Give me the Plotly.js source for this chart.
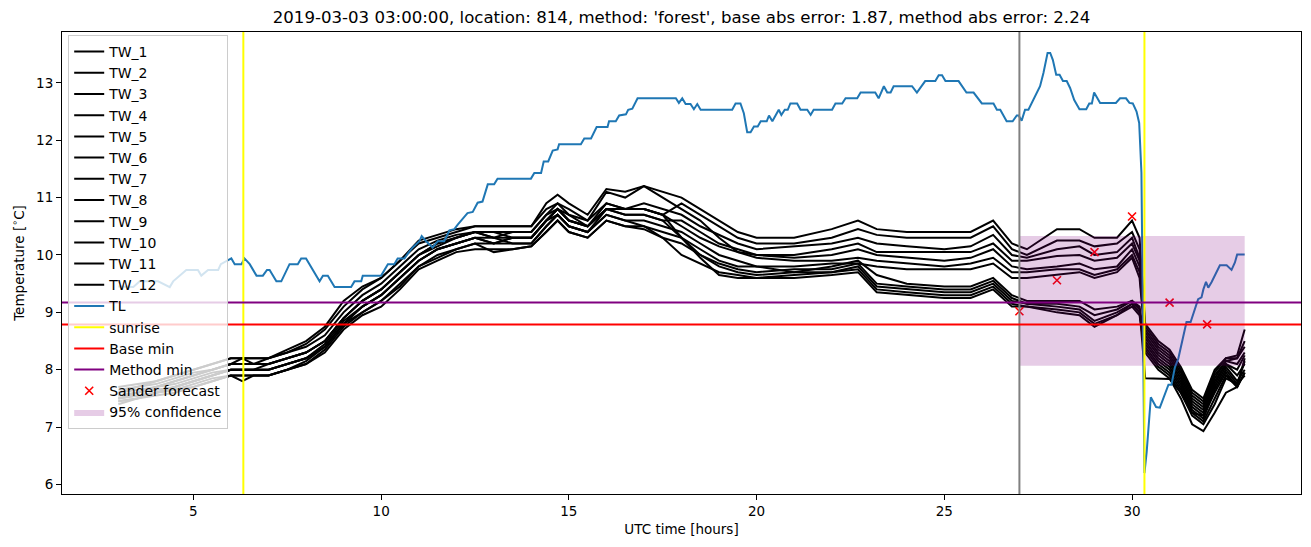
<!DOCTYPE html>
<html><head><meta charset="utf-8">
<script src="https://cdn.plot.ly/plotly-3.0.1.min.js"></script>
<style>body{margin:0;background:#fff}#chart{width:1311px;height:547px}</style>
</head><body><div id="chart"></div>
<script>
// time grid (UTC hours) shared by the TW series
const T = [3.0,3.5,4.0,4.5,5.0,5.5,6.0,6.3,6.6,7.0,7.5,8.0,8.5,9.0,9.5,10.0,10.5,11.0,11.5,12.0,12.5,13.0,13.5,14.0,14.4,14.7,15.0,15.5,16.0,16.5,17.0,17.5,
 18.0,18.5,19.0,19.5,20.0,21.0,22.0,22.7,23.2,24.0,25.0,25.7,26.3,26.8,27.2,28.0,28.6,29.0,29.6,30.0,30.2,
 30.35,30.7,31.0,31.3,31.6,31.9,32.2,32.5,32.8,33.0];

const TW_1 = [7.7,7.75,7.8,7.9,8.0,8.1,8.2,8.2,8.2,8.2,8.3,8.45,8.7,9.1,9.4,9.6,9.9,10.2,10.3,10.4,10.5,10.5,10.5,10.5,10.8,10.9,10.8,10.6,11.1,11.0,11.2,11.1,
 11.0,10.8,10.6,10.4,10.3,10.3,10.45,10.6,10.45,10.4,10.4,10.4,10.6,10.2,10.1,10.45,10.45,10.3,10.3,10.6,10.3,
 8.8,8.5,8.35,8.05,7.65,7.5,8.0,8.2,8.25,8.7];
const TW_2 = [7.6,7.65,7.7,7.8,7.9,8.0,8.1,8.1,8.1,8.1,8.2,8.3,8.5,8.9,9.2,9.4,9.7,10.0,10.2,10.3,10.4,10.3,10.4,10.4,10.7,10.8,10.6,10.5,10.9,10.8,10.8,10.7,
 10.9,10.7,10.5,10.3,10.2,10.2,10.3,10.45,10.35,10.3,10.3,10.3,10.5,10.1,10.0,10.25,10.25,10.15,10.2,10.4,10.1,
 8.75,8.45,8.3,8.0,7.6,7.45,7.95,8.2,8.2,8.5];
const TW_3 = [7.65,7.7,7.75,7.85,7.95,8.0,8.1,8.2,8.1,8.2,8.3,8.4,8.6,9.0,9.3,9.5,9.8,10.1,10.25,10.35,10.4,10.4,10.3,10.3,10.6,10.8,10.7,10.5,10.8,10.8,10.9,10.8,
 10.7,10.5,10.35,10.2,10.1,10.15,10.2,10.3,10.2,10.15,10.1,10.15,10.35,10.0,9.95,10.1,10.15,10.0,10.05,10.3,9.95,
 8.7,8.4,8.25,7.95,7.55,7.4,7.9,8.15,8.2,8.4];
const TW_4 = [7.55,7.6,7.7,7.75,7.85,7.95,8.0,8.0,8.0,8.0,8.1,8.2,8.4,8.8,9.1,9.3,9.6,9.9,10.1,10.2,10.3,10.2,10.3,10.3,10.6,10.7,10.5,10.4,10.8,10.7,10.7,10.6,
 10.6,10.4,10.2,10.1,10.0,10.0,10.1,10.2,10.05,10.05,10.05,10.05,10.2,9.9,9.9,9.98,10.0,9.9,9.95,10.2,9.9,
 8.65,8.35,8.2,7.9,7.5,7.35,7.85,8.15,8.1,8.3];
const TW_5 = [7.5,7.55,7.6,7.7,7.8,7.9,8.0,8.0,8.0,8.1,8.2,8.3,8.5,8.9,9.2,9.4,9.7,10.0,10.2,10.3,10.4,10.4,10.4,10.4,10.7,10.9,10.7,10.6,10.9,10.8,10.8,10.7,
 10.5,10.3,10.15,10.05,10.0,9.95,10.0,10.1,10.0,9.95,9.9,9.95,10.1,9.8,9.75,9.8,9.85,9.75,9.8,10.1,9.8,
 8.6,8.3,8.15,7.85,7.45,7.3,7.8,8.1,8.0,8.25];
const TW_6 = [7.6,7.7,7.8,7.9,8.0,8.1,8.2,8.2,8.2,8.2,8.35,8.5,8.75,9.2,9.45,9.6,9.9,10.25,10.35,10.45,10.5,10.5,10.5,10.5,10.9,11.05,10.9,10.7,11.15,11.1,11.2,11.0,
 10.8,10.6,10.3,10.05,9.95,9.9,9.9,9.95,9.9,9.85,9.8,9.85,9.95,9.7,9.7,9.75,9.75,9.65,9.75,10.0,9.7,
 8.55,8.25,8.1,7.8,7.4,7.25,7.75,8.1,7.9,8.1];
const TW_7 = [7.45,7.5,7.6,7.65,7.75,7.85,7.9,7.8,7.9,7.9,8.0,8.1,8.3,8.7,8.95,9.1,9.4,9.75,9.9,10.05,10.1,10.1,10.1,10.15,10.4,10.6,10.4,10.3,10.6,10.5,10.5,10.4,
 10.3,10.1,9.9,9.8,9.8,9.8,9.85,9.85,9.8,9.75,9.75,9.75,9.85,9.6,9.6,9.66,9.7,9.6,9.7,9.95,9.6,
 8.5,8.2,8.05,7.75,7.35,7.2,7.7,8.05,7.8,8.0];
const TW_8 = [7.5,7.6,7.7,7.8,7.9,8.0,8.1,8.1,8.1,8.1,8.2,8.3,8.5,8.9,9.2,9.4,9.7,10.0,10.15,10.3,10.4,10.3,10.2,10.2,10.5,10.7,10.5,10.4,10.7,10.6,10.6,10.5,
 10.4,10.2,10.0,9.9,9.8,9.7,9.8,9.9,9.65,9.5,9.45,9.45,9.6,9.3,9.2,9.2,9.2,9.05,9.1,9.2,9.1,
 8.45,8.15,8.0,7.7,7.3,7.15,7.65,8.0,7.75,8.15];
const TW_9 = [7.4,7.5,7.55,7.6,7.7,7.8,7.9,7.9,7.9,7.9,8.0,8.1,8.35,8.75,9.0,9.2,9.5,9.8,10.0,10.1,10.2,10.2,10.2,10.2,10.5,10.7,10.5,10.4,10.7,10.6,10.5,10.3,
 10.2,10.0,9.85,9.75,9.7,9.75,9.75,9.85,9.5,9.45,9.4,9.4,9.55,9.25,9.15,9.15,9.1,8.95,9.05,9.2,9.05,
 7.85,7.84,7.84,7.6,7.25,7.2,7.6,7.95,7.7,8.2];
const TW_10 = [7.55,7.6,7.65,7.7,7.8,7.9,8.0,8.0,8.0,8.0,8.1,8.2,8.45,8.85,9.1,9.3,9.6,9.9,10.1,10.2,10.3,10.3,10.3,10.3,10.6,10.8,10.6,10.5,10.8,10.7,10.7,10.6,
 10.3,10.0,9.8,9.7,9.65,9.7,9.7,9.8,9.45,9.4,9.35,9.35,9.5,9.2,9.15,9.1,9.05,8.85,9.0,9.15,9.0,
 8.4,8.1,7.95,7.65,7.25,7.1,7.5,7.9,7.7,7.95];
const TW_11 = [7.45,7.5,7.6,7.65,7.7,7.8,7.9,7.9,7.9,7.9,8.0,8.15,8.4,8.8,9.0,9.2,9.45,9.8,9.95,10.1,10.2,10.05,10.1,10.15,10.4,10.6,10.4,10.3,10.6,10.5,10.45,10.3,
 10.0,9.85,9.7,9.65,9.6,9.65,9.7,9.75,9.4,9.35,9.3,9.3,9.45,9.15,9.1,9.05,9.0,8.8,8.95,9.15,9.0,
 8.35,8.05,7.9,7.6,7.2,7.05,7.4,7.85,7.75,7.9];
const TW_12 = [7.5,7.55,7.6,7.7,7.8,7.9,8.0,8.0,8.0,8.0,8.1,8.2,8.4,8.8,9.1,9.3,9.6,9.9,10.1,10.2,10.3,10.2,10.3,10.3,10.6,10.8,10.6,10.5,10.8,10.8,10.8,10.7,
 10.3,9.95,9.65,9.6,9.6,9.6,9.65,9.7,9.35,9.3,9.25,9.25,9.4,9.1,9.1,9.0,8.95,8.75,8.95,9.1,8.95,
 8.3,8.0,7.85,7.5,7.05,6.93,7.25,7.6,7.7,7.95];

// air temperature TL
const TL_x = [3.0,3.4,3.57,4.06,4.37,4.46,4.81,5.12,5.21,5.39,5.66,5.73,6.01,6.10,6.28,6.36,6.50,6.68,6.85,6.96,7.03,7.21,7.34,7.56,7.78,7.87,8.0,8.36,8.45,8.58,8.76,9.20,9.29,9.47,9.51,10.0,10.18,10.35,10.44,10.62,10.73,10.84,11.02,11.08,11.20,11.37,11.51,11.68,11.82,11.95,12.04,12.17,12.30,12.44,12.57,12.70,12.84,13.01,13.10,13.99,14.08,14.26,14.33,14.45,14.57,14.70,14.74,15.32,15.41,15.59,15.74,16.03,16.07,16.25,16.34,16.52,16.58,16.69,16.83,17.85,17.93,18.02,18.11,18.24,18.33,18.42,18.51,19.35,19.44,19.57,19.66,19.75,19.84,19.93,20.03,20.11,20.27,20.33,20.42,20.59,20.66,20.75,20.83,20.90,21.08,21.17,21.35,21.44,21.52,22.01,22.10,22.28,22.37,22.68,22.77,23.16,23.25,23.39,23.48,23.57,23.65,24.14,24.27,24.49,24.76,24.85,24.94,25.03,25.38,25.59,25.78,26.0,26.31,26.40,26.49,26.66,26.82,26.93,26.98,27.06,27.15,27.24,27.33,27.45,27.55,27.64,27.75,27.82,27.89,27.98,28.07,28.16,28.26,28.35,28.46,28.60,28.78,28.86,28.93,28.99,29.15,29.57,29.68,29.84,29.93,30.02,30.12,30.19,30.25,30.33,30.39,30.50,30.64,30.74,30.88,30.97,31.05,31.14,31.23,31.37,31.45,31.56,31.65,31.76,31.85,31.90,31.97,32.03,32.12,32.21,32.34,32.52,32.65,32.74,32.80,33.0];
const TL_y = [9.45,9.44,9.54,9.54,9.44,9.54,9.74,9.74,9.64,9.74,9.74,9.84,9.94,9.84,9.84,9.94,9.84,9.64,9.64,9.74,9.74,9.54,9.54,9.84,9.84,9.94,9.94,9.54,9.64,9.64,9.44,9.44,9.54,9.54,9.64,9.64,9.84,9.84,9.94,9.94,10.04,10.13,10.24,10.33,10.24,10.13,10.24,10.24,10.43,10.45,10.53,10.63,10.73,10.75,10.91,10.93,11.23,11.23,11.33,11.33,11.43,11.43,11.63,11.63,11.82,11.84,11.93,11.93,12.03,12.03,12.23,12.23,12.33,12.33,12.43,12.45,12.53,12.55,12.73,12.73,12.65,12.73,12.63,12.63,12.54,12.63,12.53,12.53,12.64,12.64,12.47,12.14,12.14,12.24,12.24,12.33,12.33,12.43,12.33,12.53,12.44,12.53,12.53,12.64,12.64,12.53,12.53,12.44,12.53,12.53,12.64,12.64,12.73,12.73,12.83,12.83,12.73,12.94,12.83,12.83,12.94,12.94,12.83,13.03,13.03,13.13,13.13,13.03,13.03,12.83,12.83,12.64,12.64,12.53,12.53,12.33,12.33,12.43,12.43,12.34,12.53,12.53,12.65,12.82,12.94,13.17,13.52,13.52,13.40,13.14,13.14,13.03,13.03,12.91,12.70,12.54,12.54,12.64,12.64,12.83,12.65,12.65,12.73,12.73,12.65,12.64,12.50,12.30,11.43,6.2,6.57,7.52,7.35,7.34,7.58,7.74,7.74,8.04,8.19,8.59,8.83,8.83,9.03,9.23,9.26,9.40,9.53,9.43,9.53,9.64,9.82,9.82,9.74,9.87,10.01,10.01];

const sunriseTimes = [6.33, 30.33];
const forecastTime = 27.0;
const baseMin = 8.79;
const methodMin = 9.17;
const sanderX = [27, 28, 29, 30, 31, 32];
const sanderY = [9.02, 9.56, 10.05, 10.67, 9.17, 8.79];
const confX = [27, 33];
const confY = [8.07, 10.33];
const xRange = [1.5, 34.5];
const yRange = [5.835, 13.885];
const xTicks = [5, 10, 15, 20, 25, 30];
const yTicks = [6, 7, 8, 9, 10, 11, 12, 13];

const TW = [TW_1,TW_2,TW_3,TW_4,TW_5,TW_6,TW_7,TW_8,TW_9,TW_10,TW_11,TW_12];
const traces = [];
TW.forEach((v, i) => traces.push({x: T, y: v, mode: 'lines', name: 'TW_' + (i + 1),
  line: {color: '#000000', width: 2}, legendgroup: 'g' + i}));
traces.push({x: TL_x, y: TL_y, mode: 'lines', name: 'TL', line: {color: '#1f77b4', width: 2}, legendgroup: 'tl'});
traces.push({x: [null], y: [null], mode: 'lines', name: 'sunrise', line: {color: '#ffff00', width: 2}, legendgroup: 'sr'});
traces.push({x: [null], y: [null], mode: 'lines', name: 'Base min', line: {color: '#ff0000', width: 2}, legendgroup: 'bm'});
traces.push({x: [null], y: [null], mode: 'lines', name: 'Method min', line: {color: '#800080', width: 2}, legendgroup: 'mm'});
traces.push({x: sanderX, y: sanderY, mode: 'markers', name: 'Sander forecast',
  marker: {symbol: 'x-thin', size: 8, color: '#ff0000', line: {color: '#ff0000', width: 1.6}}, legendgroup: 'sf'});
traces.push({x: [confX[0], confX[1], confX[1], confX[0], confX[0]], y: [confY[0], confY[0], confY[1], confY[1], confY[0]],
  mode: 'lines', fill: 'toself', fillcolor: 'rgba(128,0,128,0.2)', line: {width: 0, color: 'rgba(128,0,128,0)'},
  name: '95% confidence', legendgroup: 'cf', hoverinfo: 'skip'});

const shapes = [];
sunriseTimes.forEach(s => shapes.push({type: 'line', xref: 'x', yref: 'paper', x0: s, x1: s, y0: 0, y1: 1, layer: 'above', line: {color: '#ffff00', width: 2}}));
shapes.push({type: 'line', xref: 'x', yref: 'paper', x0: forecastTime, x1: forecastTime, y0: 0, y1: 1, layer: 'above', line: {color: '#808080', width: 2}});
shapes.push({type: 'line', xref: 'paper', yref: 'y', x0: 0, x1: 1, y0: baseMin, y1: baseMin, layer: 'above', line: {color: '#ff0000', width: 2}});
shapes.push({type: 'line', xref: 'paper', yref: 'y', x0: 0, x1: 1, y0: methodMin, y1: methodMin, layer: 'above', line: {color: '#800080', width: 2}});

const font = 'DejaVu Sans, sans-serif';
const layout = {
  width: 1311, height: 547,
  margin: {l: 62, r: 10, t: 32, b: 53},
  paper_bgcolor: '#ffffff', plot_bgcolor: '#ffffff',
  font: {family: font, size: 13.5, color: '#000000'},
  title: {text: "2019-03-03 03:00:00, location: 814, method: 'forest', base abs error: 1.87, method abs error: 2.24",
    font: {family: font, size: 16.6, color: '#000'}, x: 0.5, xref: 'paper', xanchor: 'center', y: 0.968, yanchor: 'middle'},
  xaxis: {range: xRange, tickvals: xTicks, ticks: 'outside', ticklen: 5, tickcolor: '#000', showgrid: false, zeroline: false,
    showline: true, linecolor: '#000', linewidth: 1, mirror: true,
    title: {text: 'UTC time [hours]', font: {family: font, size: 13.5}, standoff: 6}},
  yaxis: {range: yRange, tickvals: yTicks, ticks: 'outside', ticklen: 5, tickcolor: '#000', showgrid: false, zeroline: false,
    showline: true, linecolor: '#000', linewidth: 1, mirror: true,
    title: {text: 'Temperature [<sup>∘</sup>C]', font: {family: font, size: 13.5}, standoff: 8}},
  showlegend: true,
  legend: {x: 0.005, y: 0.9935, xanchor: 'left', yanchor: 'top', bgcolor: 'rgba(255,255,255,0.8)',
    bordercolor: '#cccccc', borderwidth: 1, font: {family: font, size: 14}, traceorder: 'grouped', tracegroupgap: 0, itemwidth: 30},
  shapes: shapes
};
Plotly.newPlot('chart', traces, layout, {displayModeBar: false, staticPlot: true});
</script>
</body></html>
